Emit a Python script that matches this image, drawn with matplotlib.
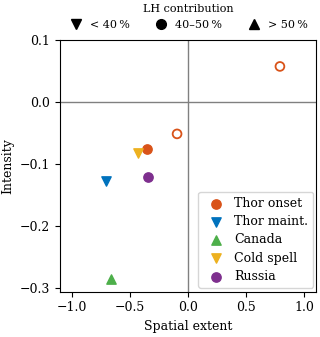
import matplotlib
matplotlib.use("Agg")
import matplotlib.pyplot as plt
from matplotlib.lines import Line2D

plt.rcParams['font.family'] = ['DejaVu Serif']
plt.rcParams['font.size'] = 9

names = ["Thor onset", "Thor maint.", "Canada", "Cold spell", "Russia"]
colors = ["#d95319", "#0072bd", "#4daf4a", "#edb120", "#7e2f8e"]
markers = ["o", "v", "^", "v", "o"]
spatial = [-0.356, -0.705, -0.665, -0.428, -0.343]
intensity = [-0.0755, -0.127, -0.286, -0.082, -0.120]

# additional open-circle points (Thor onset variants)
open_x = [0.79, -0.094]
open_y = [0.058, -0.051]

fig = plt.figure(figsize=(3.2, 3.37), dpi=100)
ax = fig.add_axes([0.1875, 0.1344, 0.80, 0.7456])

ax.axhline(0, color="gray", lw=1, zorder=0)
ax.axvline(0, color="gray", lw=1, zorder=0)

handles = []
for n, c, m, x, y in zip(names, colors, markers, spatial, intensity):
    h = ax.scatter([x], [y], color=c, marker=m, s=45, label=n, zorder=3)
    handles.append(h)

ax.scatter(open_x, open_y, facecolors="none", edgecolors=colors[0], marker="o",
           s=40, linewidths=1.3, zorder=3)

ax.set_xlim(-1.1, 1.1)
ax.set_ylim(-0.306, 0.1)
ax.set_xticks([-1.0, -0.5, 0.0, 0.5, 1.0])
ax.set_yticks([-0.3, -0.2, -0.1, 0.0, 0.1])
ax.set_xlabel("Spatial extent")
ax.set_ylabel("Intensity")

leg1 = ax.legend(handles=handles, loc="lower right", handletextpad=0.5,
                 labelspacing=0.42, bbox_to_anchor=(0.99, 0.015),
                 borderaxespad=0.0)
ax.add_artist(leg1)

lh_labels = ["< 40\u2009%", "40–50\u2009%", "> 50\u2009%"]
lh_markers = ["v", "o", "^"]
lh_handles = [Line2D([], [], ls="none", marker=m, color="black", markersize=7)
              for m in lh_markers]
ax.legend(lh_handles, lh_labels, title="LH contribution", ncol=3,
          loc="lower center", bbox_to_anchor=(0.5, 1.0), frameon=False,
          handlelength=1.3, handletextpad=0.6, columnspacing=2.2,
          borderaxespad=0.55, fontsize=8, title_fontsize=8)

fig.savefig("out.png", dpi=100)
